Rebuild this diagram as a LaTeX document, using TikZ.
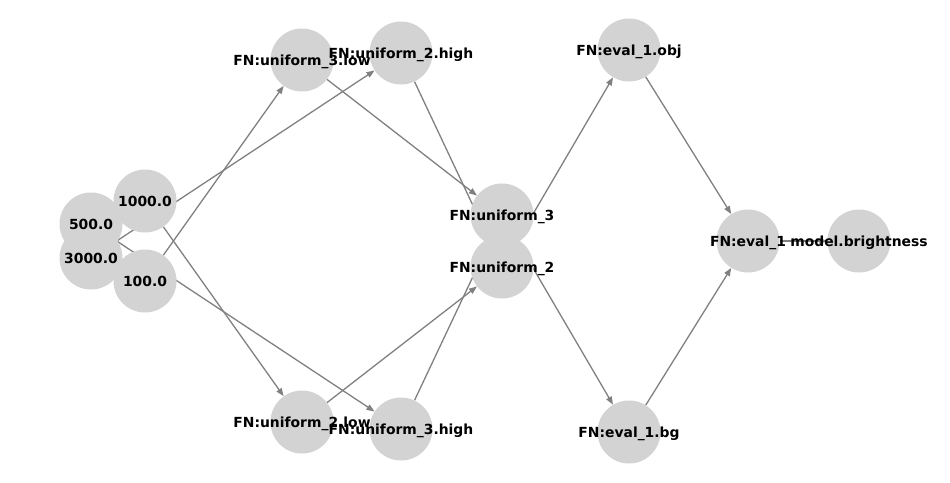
\documentclass[tikz,border=0pt]{standalone}
\usepackage{fontspec}
\setmainfont{DejaVu Sans}
\usetikzlibrary{arrows.meta,backgrounds}
\begin{document}
\begin{tikzpicture}[x=1pt,y=-1pt,
  vtx/.style={circle,fill={rgb,255:red,211;green,211;blue,211},minimum size=63pt,inner sep=0pt},
  lbl/.style={font=\fontsize{13.9}{16}\selectfont\bfseries,inner sep=0pt,text=black,text height=10.1pt,text depth=0pt},
  edge/.style={draw={rgb,255:red,128;green,128;blue,128},line width=1.3pt},
  arr/.style={edge,-{Triangle[length=8pt,width=6pt]}}]
\path[use as bounding box] (0,0) rectangle (950,482);
% circles
\node[vtx] (n500) at (91,224) {};
\node[vtx] (n3000) at (91,258) {};
\node[vtx] (n1000) at (145,201) {};
\node[vtx] (n100) at (145,281) {};
\node[vtx] (u3l) at (302,60) {};
\node[vtx] (u2h) at (401,53) {};
\node[vtx] (u2l) at (302,422) {};
\node[vtx] (u3h) at (401,429) {};
\node[vtx] (u3) at (502,215) {};
\node[vtx] (u2) at (502,267) {};
\node[vtx] (eo) at (629,50) {};
\node[vtx] (eb) at (629,432) {};
\node[vtx] (e1) at (748,241) {};
\node[vtx] (mb) at (859,241) {};
% edges
\begin{pgfonlayer}{background}
\draw[arr] (n1000) -- (u2l);
\draw[arr] (n100) -- (u3l);
\draw[arr] (n500) -- (u3h);
\draw[arr] (n3000) -- (u2h);
\draw[arr] (u3l) -- (u3);
\draw[arr] (u3h) -- (u3);
\draw[arr] (u2h) -- (u2);
\draw[arr] (u2l) -- (u2);
\draw[arr] (u2) -- (eo);
\draw[arr] (u3) -- (eb);
\draw[arr] (eo) -- (e1);
\draw[arr] (eb) -- (e1);
\draw[arr] (e1) -- (mb);
\end{pgfonlayer}
% labels
\node[lbl] (l500) at (n500) {500.0};
\node[lbl] (l3000) at (n3000) {3000.0};
\node[lbl] (l1000) at (n1000) {1000.0};
\node[lbl] (l100) at (n100) {100.0};
\node[lbl] (lu3l) at (u3l) {FN:uniform\_3.low};
\node[lbl] (lu2h) at (u2h) {FN:uniform\_2.high};
\node[lbl] (lu2l) at (u2l) {FN:uniform\_2.low};
\node[lbl] (lu3h) at (u3h) {FN:uniform\_3.high};
\node[lbl] (lu3) at (u3) {FN:uniform\_3};
\node[lbl] (lu2) at (u2) {FN:uniform\_2};
\node[lbl] (leo) at (eo) {FN:eval\_1.obj};
\node[lbl] (leb) at (eb) {FN:eval\_1.bg};
\node[lbl] (le1) at (e1) {FN:eval\_1};
\node[lbl] (lmb) at (mb) {model.brightness};
\end{tikzpicture}
\end{document}
